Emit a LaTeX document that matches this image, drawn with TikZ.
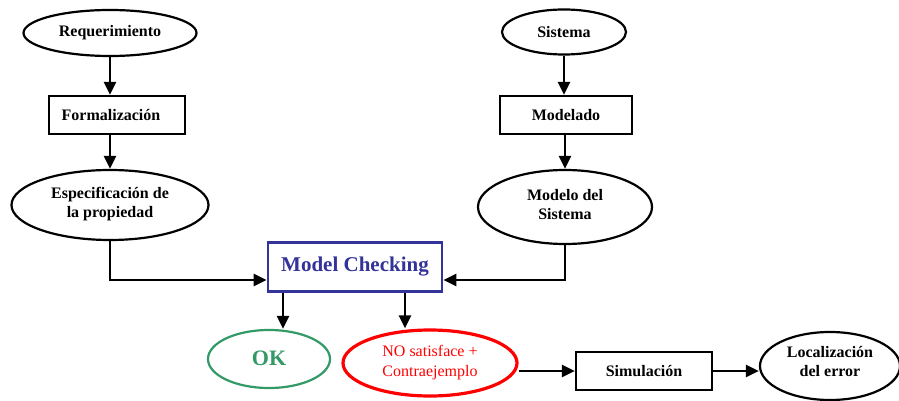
\documentclass[tikz,border=0pt]{standalone}
\usepackage{fontspec}
\setmainfont{Liberation Serif}
\usetikzlibrary{shapes.geometric,arrows.meta}
\definecolor{mcblue}{RGB}{51,51,153}
\definecolor{okgreen}{RGB}{51,153,102}
\definecolor{nored}{RGB}{255,0,0}
\begin{document}
\begin{tikzpicture}[x=1pt,y=-1pt,
  every node/.style={inner sep=0pt, align=center},
  txt/.style={font=\fontsize{16}{19}\selectfont\bfseries},
  oval/.style={ellipse, draw, line width=2.2pt, txt},
  lifted/.style={text depth=#1},
  box/.style={rectangle, draw, line width=2.2pt, txt},
  arr/.style={line width=2.4pt, -{Triangle[length=13pt,width=12pt]}}]
\useasboundingbox (0,0) rectangle (899,401);
% left column: requirement side
\node[oval, minimum width=173pt, minimum height=46pt] (req) at (110,33) {Requerimiento};
\node[box, minimum width=136pt, minimum height=38pt] (form) at (117,115) {Formalización\hspace*{12pt}};
\node[oval, lifted=5pt, minimum width=197pt, minimum height=70pt] (esp) at (110,205) {Especificación de\\la propiedad};
% right column: system side
\node[oval, minimum width=124pt, minimum height=45pt] (sis) at (564,32) {Sistema};
\node[box, minimum width=132pt, minimum height=38pt] (mod) at (566,115) {Modelado};
\node[oval, lifted=5pt, minimum width=174pt, minimum height=74pt] (msis) at (565,207) {Modelo del\\Sistema};
% central checker
\node[rectangle, draw=mcblue, line width=2.8pt, minimum width=174pt, minimum height=49pt,
      text=mcblue, font=\fontsize{21}{24}\selectfont\bfseries] (mc) at (355,267) {\raisebox{4pt}{Model Checking}};
% outcomes
\node[ellipse, draw=okgreen, line width=2.2pt, minimum width=122pt, minimum height=58pt,
      text=okgreen, font=\fontsize{22}{24}\selectfont\bfseries] (ok) at (269,359) {\raisebox{2pt}{OK}};
\node[ellipse, draw=nored, line width=3.2pt, minimum width=174pt, minimum height=66pt,
      text=nored, font=\fontsize{16}{20}\selectfont] (no) at (430,363) {NO satisface +\\Contraejemplo};
\node[box, minimum width=136pt, minimum height=38pt] (sim) at (644,371) {Simulación};
\node[oval, lifted=10pt, minimum width=140pt, minimum height=68pt] (loc) at (830,366) {Localización\\del error};
% connectors
\draw[arr] (req.south) -- (req.south |- form.north);
\draw[arr] (form.south -| esp.north) -- (esp.north);
\draw[arr] (esp.south) |- ([yshift=-13pt]mc.west);
\draw[arr] (sis.south) -- (sis.south |- mod.north);
\draw[arr] (mod.south -| msis.north) -- (msis.north);
\draw[arr] (msis.south) |- ([yshift=-13pt]mc.east);
\draw[arr] ([xshift=-72pt]mc.south) -- ([xshift=-72pt]mc.south |- ok.north);
\draw[arr] ([xshift=50pt]mc.south) -- ([xshift=50pt]mc.south |- no.north);
\draw[arr] (sim.west -| no.east) -- (sim.west);
\draw[arr] (sim.east) -- (sim.east -| loc.west);
\end{tikzpicture}
\end{document}
